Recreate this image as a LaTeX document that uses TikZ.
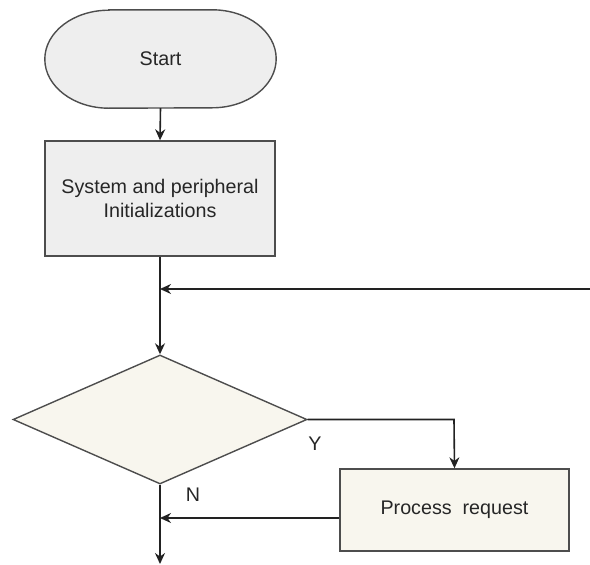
\documentclass[tikz,border=0pt]{standalone}
\usepackage{fontspec}
\setmainfont{Liberation Sans}
\usetikzlibrary{shapes.geometric,arrows.meta,backgrounds}
\definecolor{grayfill}{HTML}{EEEEEE}
\definecolor{beigefill}{HTML}{F8F6EE}
\definecolor{edge}{HTML}{4D4D4D}
\definecolor{wire}{HTML}{222222}
\begin{document}
\begin{tikzpicture}[x=1pt,y=-1pt,
  every node/.style={font=\fontsize{19.7}{24}\selectfont, text=black!85},
  terminal/.style={minimum width=231pt, minimum height=98pt, inner sep=0pt},
  outline/.style={draw=edge, line width=1.4pt, fill=grayfill},
  initbox/.style={draw=edge, line width=1.4pt, fill=grayfill,
    minimum width=230pt, minimum height=115pt, inner sep=0pt, align=center},
  procbox/.style={draw=edge, line width=1.4pt, fill=beigefill,
    minimum width=229pt, minimum height=82pt, inner sep=0pt},
  decision/.style={draw=edge, line width=1.4pt, fill=beigefill, diamond,
    minimum width=294pt, minimum height=129pt, inner sep=0pt},
  flow/.style={draw=wire, line width=1.6pt, -{Stealth[length=11pt,width=10pt]}},
  plain/.style={draw=wire, line width=1.6pt}]
\useasboundingbox (0,0) rectangle (590,565);

\node[terminal] (start) at (160.5,59) {Start};
% terminal outline with elliptic ends
\begin{scope}[on background layer]
  \path[outline] ([xshift=64pt]start.north west) -- ([xshift=-64pt]start.north east)
    arc[start angle=-90, end angle=90, x radius=64, y radius=49]
    -- ([xshift=64pt]start.south west)
    arc[start angle=90, end angle=270, x radius=64, y radius=49] -- cycle;
\end{scope}
\node[initbox] (init) at (160,198.5) {System and peripheral\\Initializations};
\node[decision] (dec) at (160,419.5) {};
\node[procbox] (proc) at (454.5,510) {Process\ \ request};

\coordinate (loopin) at (590,289);
\coordinate (join1) at (160,289);
\coordinate (bend) at (454,419.5);
\coordinate (join2) at (160,518);
\coordinate (out) at (160,564);

\draw[flow] (start.south) -- (init.north);
\draw[flow] (init.south) -- (dec.north);
\draw[flow] (loopin) -- (join1);
\draw[flow] (dec.east) -- (bend) -- (proc.north);
\draw[plain] (dec.south) -- (join2);
\draw[flow] (proc.west |- join2) -- (join2);
\draw[flow] (join2) -- (out);

\node (ylab) at (315,444) {Y};
\node (nlab) at (193,495) {N};
\end{tikzpicture}
\end{document}
